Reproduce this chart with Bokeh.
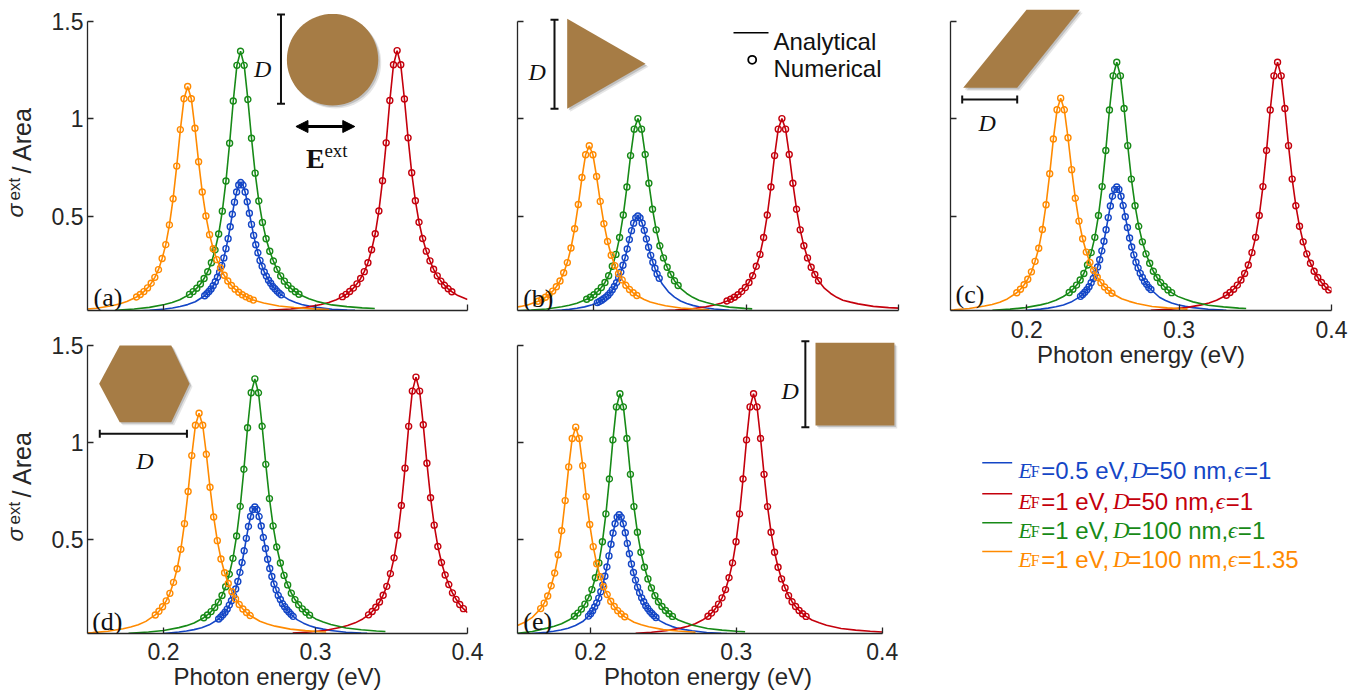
import math
from bokeh.plotting import figure
from bokeh.layouts import row, column
from bokeh.models import Range1d, FixedTicker, Label, PolyAnnotation, Arrow, TeeHead, NormalHead
from bokeh.embed import file_html
from bokeh.resources import INLINE

# ----------------------------------------------------------------- data
X_RANGE = (0.15, 0.40)
Y_RANGE = (0.015, 1.5)
X_TICKS = [0.2, 0.3, 0.4]
X_TICK_LABELS = ["0.2", "0.3", "0.4"]
Y_TICKS = [0.5, 1.0, 1.5]
Y_TICK_LABELS = ["0.5", "1", "1.5"]
X_TITLE = "Photon energy (eV)"
PANEL_TAGS = ["(a)", "(b)", "(c)", "(d)", "(e)"]
LEG_EF = ["0.5", "1", "1", "1"]
LEG_D = ["50", "50", "100", "100"]
LEG_EPS = ["1", "1", "1", "1.35"]

# each curve: X, Y (analytical line incl. tails); TAILS = points at (left, right) end that carry no marker
A_BL_X = [0.182, 0.1909, 0.2009, 0.2059, 0.2109, 0.2159, 0.2209,
          0.2271, 0.2285, 0.2299, 0.2313, 0.2327, 0.2341, 0.2355, 0.2369, 0.2383, 0.2397,
          0.2411, 0.2425, 0.2439, 0.2453, 0.2467, 0.2481, 0.2495, 0.2509, 0.2523, 0.2537,
          0.2551, 0.2565, 0.2579, 0.2593, 0.2607, 0.2621, 0.2635, 0.2649, 0.2663, 0.2677,
          0.2691, 0.2705, 0.2719, 0.2733, 0.2747, 0.2761, 0.2775,
          0.2829, 0.2869, 0.2909, 0.2959, 0.3009, 0.3109, 0.3209, 0.326]
A_BL_Y = [0.0118, 0.0155, 0.0229, 0.0281, 0.0351, 0.0452, 0.0601,
          0.0907, 0.1008, 0.1122, 0.1257, 0.1418, 0.1626, 0.1855, 0.2117, 0.2466, 0.2849,
          0.3326, 0.3837, 0.4449, 0.5094, 0.5712, 0.6229, 0.6592, 0.672, 0.6592, 0.6229,
          0.5732, 0.5141, 0.4570, 0.4005, 0.3528, 0.3111, 0.2722, 0.2419, 0.2130, 0.1915,
          0.1700, 0.1546, 0.1384, 0.1270, 0.1149, 0.1042, 0.0954,
          0.0685, 0.0555, 0.0456, 0.0376, 0.0309, 0.0218, 0.0175, 0.0158]
A_BL_TAILS = (7, 8)
A_RD_X = [0.269, 0.2837, 0.2937, 0.3037, 0.3087, 0.3137,
          0.3177, 0.3201, 0.3225, 0.3249, 0.3273, 0.3297, 0.3321, 0.3345, 0.3369, 0.3393,
          0.3417, 0.3441, 0.3465, 0.3489, 0.3513, 0.3537, 0.3561, 0.3585, 0.3609, 0.3633,
          0.3657, 0.3681, 0.3705, 0.3729, 0.3753, 0.3777, 0.3801, 0.3825, 0.3849, 0.3873,
          0.3897,
          0.3937, 0.400]
A_RD_Y = [0.0161, 0.0229, 0.0310, 0.0460, 0.0564, 0.0706,
          0.0861, 0.0979, 0.1122, 0.1298, 0.1518, 0.1794, 0.2145, 0.2604, 0.3265, 0.4087,
          0.5261, 0.6812, 0.8755, 1.0927, 1.2762, 1.349, 1.2762, 1.1008, 0.9011, 0.7217,
          0.5787, 0.4681, 0.3845, 0.3197, 0.2698, 0.2266, 0.1929, 0.1659, 0.1443, 0.1263,
          0.1114,
          0.0916, 0.0715]
A_RD_TAILS = (6, 2)
A_GR_X = [0.168, 0.1807, 0.1907, 0.2007, 0.2057, 0.2107,
          0.2171, 0.2195, 0.2219, 0.2243, 0.2267, 0.2291, 0.2315, 0.2339, 0.2363, 0.2387,
          0.2411, 0.2435, 0.2459, 0.2483, 0.2507, 0.2531, 0.2555, 0.2579, 0.2603, 0.2627,
          0.2651, 0.2675, 0.2699, 0.2723, 0.2747, 0.2771, 0.2795, 0.2819, 0.2843, 0.2867,
          0.2891,
          0.2957, 0.3007, 0.3107, 0.3207, 0.3307, 0.339]
A_GR_Y = [0.0164, 0.0229, 0.0310, 0.0459, 0.0563, 0.0704,
          0.0977, 0.1120, 0.1295, 0.1514, 0.1790, 0.2140, 0.2598, 0.3257, 0.4078, 0.5249,
          0.6797, 0.8736, 1.0903, 1.2733, 1.346, 1.2733, 1.0983, 0.8991, 0.7201, 0.5774,
          0.4671, 0.3836, 0.3190, 0.2692, 0.2261, 0.1925, 0.1656, 0.1440, 0.1260, 0.1112,
          0.0987,
          0.0754, 0.0619, 0.0437, 0.0350, 0.0283, 0.0250]
A_GR_TAILS = (6, 6)
A_OR_X = [0.150, 0.1559, 0.1659, 0.1709, 0.1759,
          0.1823, 0.1847, 0.1871, 0.1895, 0.1919, 0.1943, 0.1967, 0.1991, 0.2015, 0.2039,
          0.2063, 0.2087, 0.2111, 0.2135, 0.2159, 0.2183, 0.2207, 0.2231, 0.2255, 0.2279,
          0.2303, 0.2327, 0.2351, 0.2375, 0.2399, 0.2423, 0.2447, 0.2471, 0.2495, 0.2519,
          0.2543, 0.2567, 0.2591,
          0.2659, 0.2759, 0.2859, 0.2959, 0.3059, 0.309]
A_OR_Y = [0.0226, 0.0268, 0.0397, 0.0487, 0.0609,
          0.0846, 0.0969, 0.1121, 0.1311, 0.1549, 0.1852, 0.2248, 0.2819, 0.3530, 0.4544,
          0.5883, 0.7561, 0.9437, 1.1021, 1.165, 1.1021, 0.9506, 0.7782, 0.6233, 0.4998,
          0.4043, 0.3320, 0.2761, 0.2330, 0.1957, 0.1666, 0.1433, 0.1247, 0.1090, 0.0962,
          0.0854, 0.0763, 0.0685,
          0.0536, 0.0379, 0.0303, 0.0245, 0.0210, 0.0198]
A_OR_TAILS = (5, 6)

B_BL_X = [0.169, 0.179, 0.184, 0.189, 0.194, 0.199,
          0.2024, 0.2038, 0.2052, 0.2066, 0.2080, 0.2094, 0.2108, 0.2122, 0.2136, 0.2150,
          0.2164, 0.2178, 0.2192, 0.2206, 0.2220, 0.2234, 0.2248, 0.2262, 0.2276, 0.2290,
          0.2304, 0.2318, 0.2332, 0.2346, 0.2360, 0.2374, 0.2388, 0.2402, 0.2416, 0.2430,
          0.245, 0.249, 0.253, 0.257, 0.261, 0.265, 0.269, 0.274, 0.279, 0.289, 0.294]
B_BL_Y = [0.0115, 0.0171, 0.0209, 0.0262, 0.0337, 0.0447,
          0.0555, 0.0610, 0.0675, 0.0750, 0.0835, 0.0935, 0.1055, 0.1210, 0.1380, 0.1575,
          0.1835, 0.2120, 0.2475, 0.2855, 0.3310, 0.3790, 0.4250, 0.4635, 0.4905, 0.500,
          0.4905, 0.4635, 0.4265, 0.3825, 0.3400, 0.2980, 0.2625, 0.2315, 0.2025, 0.1800,
          0.1505, 0.1110, 0.0840, 0.0640, 0.0510, 0.0413, 0.0340, 0.0280, 0.0230, 0.0163, 0.0145]
B_BL_TAILS = (6, 11)
B_RD_X = [0.239, 0.2535, 0.2635, 0.2735, 0.2785, 0.2835,
          0.2875, 0.2899, 0.2923, 0.2947, 0.2971, 0.2995, 0.3019, 0.3043, 0.3067, 0.3091,
          0.3115, 0.3139, 0.3163, 0.3187, 0.3211, 0.3235, 0.3259, 0.3283, 0.3307, 0.3331,
          0.3355, 0.3379, 0.3403, 0.3427, 0.3451, 0.3475,
          0.3515, 0.3555, 0.3595, 0.3635, 0.3685, 0.3735, 0.3835, 0.3935, 0.400]
B_RD_Y = [0.012, 0.017, 0.023, 0.0341, 0.0418, 0.0523,
          0.0638, 0.0726, 0.0832, 0.0962, 0.1125, 0.133, 0.159, 0.193, 0.242, 0.303,
          0.390, 0.505, 0.649, 0.810, 0.946, 1.0, 0.946, 0.816, 0.668, 0.535,
          0.429, 0.347, 0.285, 0.237, 0.200, 0.168,
          0.128, 0.1025, 0.0826, 0.0679, 0.058, 0.049, 0.036, 0.030, 0.027]
B_RD_TAILS = (6, 9)
B_GR_X = [0.150, 0.159, 0.169, 0.179, 0.184, 0.189,
          0.1954, 0.1978, 0.2002, 0.2026, 0.2050, 0.2074, 0.2098, 0.2122, 0.2146, 0.2170,
          0.2194, 0.2218, 0.2242, 0.2266, 0.2290, 0.2314, 0.2338, 0.2362, 0.2386, 0.2410,
          0.2434, 0.2458, 0.2482, 0.2506, 0.2530, 0.2554,
          0.257, 0.261, 0.265, 0.269, 0.274, 0.279, 0.289, 0.299, 0.304]
B_GR_Y = [0.0133, 0.0170, 0.0230, 0.0341, 0.0418, 0.0523,
          0.0726, 0.0832, 0.0962, 0.1125, 0.133, 0.159, 0.193, 0.242, 0.303, 0.390,
          0.505, 0.649, 0.810, 0.946, 1.0, 0.946, 0.816, 0.668, 0.535, 0.429,
          0.347, 0.285, 0.237, 0.200, 0.168, 0.143,
          0.128, 0.1025, 0.0826, 0.0679, 0.056, 0.046, 0.0325, 0.026, 0.0235]
B_GR_TAILS = (6, 9)
B_OR_X = [0.150, 0.1521, 0.1571,
          0.1635, 0.1659, 0.1683, 0.1707, 0.1731, 0.1755, 0.1779, 0.1803, 0.1827, 0.1851,
          0.1875, 0.1899, 0.1923, 0.1947, 0.1971, 0.1995, 0.2019, 0.2043, 0.2067, 0.2091,
          0.2115, 0.2139, 0.2163, 0.2187, 0.2211, 0.2235, 0.2259, 0.2283,
          0.2331, 0.2371, 0.2421, 0.2471, 0.2571, 0.2671, 0.276]
B_OR_Y = [0.0331, 0.0360, 0.0450,
          0.0625, 0.0716, 0.0828, 0.0969, 0.1145, 0.1369, 0.1662, 0.2084, 0.2609, 0.3358,
          0.4348, 0.5588, 0.6974, 0.8145, 0.861, 0.8145, 0.7026, 0.5751, 0.4606, 0.3694,
          0.2988, 0.2454, 0.2041, 0.1722, 0.1446, 0.1231, 0.1059, 0.0921,
          0.0711, 0.0585, 0.0482, 0.0396, 0.0280, 0.0224, 0.0185]
B_OR_TAILS = (3, 7)

C_BL_X = [0.1906, 0.1991, 0.2091, 0.2141, 0.2191, 0.2241, 0.2291,
          0.2353, 0.2367, 0.2381, 0.2395, 0.2409, 0.2423, 0.2437, 0.2451, 0.2465, 0.2479,
          0.2493, 0.2507, 0.2521, 0.2535, 0.2549, 0.2563, 0.2577, 0.2591, 0.2605, 0.2619,
          0.2633, 0.2647, 0.2661, 0.2675, 0.2689, 0.2703, 0.2717, 0.2731, 0.2745, 0.2759,
          0.2773, 0.2787, 0.2801, 0.2815,
          0.2871, 0.2911, 0.2951, 0.2991, 0.3041, 0.3091, 0.3191, 0.3291, 0.331]
C_BL_Y = [0.0114, 0.0149, 0.0221, 0.0271, 0.0339, 0.0437, 0.0580,
          0.0876, 0.0974, 0.1084, 0.1214, 0.1369, 0.1571, 0.1791, 0.2044, 0.2382, 0.2752,
          0.3213, 0.3706, 0.4296, 0.4919, 0.5517, 0.6016, 0.6367, 0.649, 0.6367, 0.6016,
          0.5536, 0.4965, 0.4413, 0.3868, 0.3407, 0.3005, 0.2628, 0.2336, 0.2057, 0.1850,
          0.1642, 0.1493, 0.1337, 0.1227,
          0.0831, 0.0665, 0.0536, 0.0441, 0.0363, 0.0299, 0.0211, 0.0169, 0.0162]
C_BL_TAILS = (7, 9)
C_RD_X = [0.2814, 0.2946, 0.3046, 0.3146, 0.3196, 0.3246,
          0.3310, 0.3334, 0.3358, 0.3382, 0.3406, 0.3430, 0.3454, 0.3478, 0.3502, 0.3526,
          0.3550, 0.3574, 0.3598, 0.3622, 0.3646, 0.3670, 0.3694, 0.3718, 0.3742, 0.3766,
          0.3790, 0.3814, 0.3838, 0.3862, 0.3886, 0.3910, 0.3934, 0.3958, 0.3982,
          0.400]
C_RD_Y = [0.0157, 0.0219, 0.0296, 0.0440, 0.0539, 0.0674,
          0.0936, 0.1072, 0.1240, 0.1450, 0.1714, 0.2050, 0.2488, 0.3119, 0.3906, 0.5027,
          0.6509, 0.8366, 1.0441, 1.2194, 1.289, 1.2194, 1.0518, 0.8611, 0.6896, 0.5530,
          0.4473, 0.3674, 0.3055, 0.2578, 0.2166, 0.1843, 0.1585, 0.1379, 0.1207,
          0.110]
C_RD_TAILS = (6, 1)
C_GR_X = [0.1775, 0.1891, 0.1991, 0.2091, 0.2141, 0.2191, 0.2241,
          0.2279, 0.2303, 0.2327, 0.2351, 0.2375, 0.2399, 0.2423, 0.2447, 0.2471, 0.2495,
          0.2519, 0.2543, 0.2567, 0.2591, 0.2615, 0.2639, 0.2663, 0.2687, 0.2711, 0.2735,
          0.2759, 0.2783, 0.2807, 0.2831, 0.2855, 0.2879, 0.2903, 0.2927, 0.2951,
          0.2991, 0.3041, 0.3091, 0.3191, 0.3291, 0.3391, 0.344]
C_GR_Y = [0.0161, 0.0219, 0.0296, 0.0440, 0.0539, 0.0674, 0.0868,
          0.1072, 0.1240, 0.1450, 0.1714, 0.2050, 0.2488, 0.3119, 0.3906, 0.5027, 0.6509,
          0.8366, 1.0441, 1.2194, 1.289, 1.2194, 1.0518, 0.8611, 0.6896, 0.5530, 0.4473,
          0.3674, 0.3055, 0.2578, 0.2166, 0.1843, 0.1585, 0.1379, 0.1207, 0.1065,
          0.0875, 0.0722, 0.0593, 0.0419, 0.0335, 0.0271, 0.0251]
C_GR_TAILS = (7, 7)
C_OR_X = [0.150, 0.1523, 0.1623, 0.1723, 0.1773, 0.1823, 0.1873,
          0.1935, 0.1959, 0.1983, 0.2007, 0.2031, 0.2055, 0.2079, 0.2103, 0.2127, 0.2151,
          0.2175, 0.2199, 0.2223, 0.2247, 0.2271, 0.2295, 0.2319, 0.2343, 0.2367, 0.2391,
          0.2415, 0.2439, 0.2463, 0.2487, 0.2511, 0.2535, 0.2559,
          0.2623, 0.2673, 0.2723, 0.2823, 0.2923, 0.3023, 0.3055]
C_OR_Y = [0.0177, 0.0188, 0.0254, 0.0377, 0.0462, 0.0578, 0.0744,
          0.1063, 0.1243, 0.1470, 0.1757, 0.2133, 0.2674, 0.3348, 0.4310, 0.5580, 0.7171,
          0.8951, 1.0453, 1.105, 1.0453, 0.9017, 0.7381, 0.5912, 0.4740, 0.3834, 0.3149,
          0.2619, 0.2210, 0.1856, 0.1580, 0.1359, 0.1182, 0.1034,
          0.0750, 0.0619, 0.0508, 0.0359, 0.0287, 0.0232, 0.0221]
C_OR_TAILS = (7, 7)

D_BL_X = [0.190, 0.2001, 0.2101, 0.2151, 0.2201, 0.2251, 0.2301,
          0.2363, 0.2377, 0.2391, 0.2405, 0.2419, 0.2433, 0.2447, 0.2461, 0.2475, 0.2489,
          0.2503, 0.2517, 0.2531, 0.2545, 0.2559, 0.2573, 0.2587, 0.2601, 0.2615, 0.2629,
          0.2643, 0.2657, 0.2671, 0.2685, 0.2699, 0.2713, 0.2727, 0.2741, 0.2755, 0.2769,
          0.2783, 0.2797, 0.2811, 0.2825, 0.2839, 0.2853,
          0.2881, 0.2921, 0.2961, 0.3001, 0.3051, 0.3101, 0.3201, 0.3301, 0.334]
D_BL_Y = [0.0113, 0.0153, 0.0227, 0.0279, 0.0349, 0.0449, 0.0596,
          0.0900, 0.1001, 0.1114, 0.1247, 0.1407, 0.1614, 0.1841, 0.2101, 0.2448, 0.2828,
          0.3302, 0.3809, 0.4416, 0.5056, 0.5670, 0.6183, 0.6543, 0.667, 0.6543, 0.6183,
          0.5690, 0.5103, 0.4536, 0.3975, 0.3502, 0.3088, 0.2701, 0.2401, 0.2114, 0.1901,
          0.1688, 0.1534, 0.1374, 0.1261, 0.1141, 0.1034,
          0.0854, 0.0684, 0.0551, 0.0453, 0.0374, 0.0307, 0.0217, 0.0173, 0.0160]
D_BL_TAILS = (7, 9)
D_RD_X = [0.285, 0.2961, 0.3061, 0.3161, 0.3211, 0.3261, 0.3311,
          0.3349, 0.3373, 0.3397, 0.3421, 0.3445, 0.3469, 0.3493, 0.3517, 0.3541, 0.3565,
          0.3589, 0.3613, 0.3637, 0.3661, 0.3685, 0.3709, 0.3733, 0.3757, 0.3781, 0.3805,
          0.3829, 0.3853, 0.3877, 0.3901, 0.3925, 0.3949, 0.3973,
          0.400]
D_RD_Y = [0.0170, 0.0227, 0.0308, 0.0456, 0.0559, 0.0699, 0.0900,
          0.1112, 0.1286, 0.1504, 0.1778, 0.2126, 0.2580, 0.3236, 0.4051, 0.5214, 0.6752,
          0.8677, 1.0830, 1.2648, 1.337, 1.2648, 1.0910, 0.8931, 0.7153, 0.5736, 0.4639,
          0.3810, 0.3169, 0.2674, 0.2246, 0.1912, 0.1645, 0.1431,
          0.123]
D_RD_TAILS = (7, 1)
D_GR_X = [0.177, 0.1901, 0.2001, 0.2101, 0.2151, 0.2201,
          0.2265, 0.2289, 0.2313, 0.2337, 0.2361, 0.2385, 0.2409, 0.2433, 0.2457, 0.2481,
          0.2505, 0.2529, 0.2553, 0.2577, 0.2601, 0.2625, 0.2649, 0.2673, 0.2697, 0.2721,
          0.2745, 0.2769, 0.2793, 0.2817, 0.2841, 0.2865, 0.2889, 0.2913, 0.2937, 0.2961,
          0.3001, 0.3051, 0.3101, 0.3201, 0.3301, 0.3401, 0.346]
D_GR_Y = [0.0163, 0.0226, 0.0305, 0.0453, 0.0555, 0.0695,
          0.0964, 0.1105, 0.1278, 0.1494, 0.1766, 0.2112, 0.2563, 0.3214, 0.4024, 0.5179,
          0.6706, 0.8619, 1.0757, 1.2563, 1.328, 1.2563, 1.0836, 0.8871, 0.7105, 0.5697,
          0.4608, 0.3785, 0.3147, 0.2656, 0.2231, 0.1899, 0.1633, 0.1421, 0.1243, 0.1097,
          0.0902, 0.0744, 0.0611, 0.0432, 0.0345, 0.0279, 0.0252]
D_GR_TAILS = (6, 7)
D_OR_X = [0.150, 0.1534, 0.1634, 0.1734, 0.1784, 0.1834, 0.1884,
          0.1946, 0.1970, 0.1994, 0.2018, 0.2042, 0.2066, 0.2090, 0.2114, 0.2138, 0.2162,
          0.2186, 0.2210, 0.2234, 0.2258, 0.2282, 0.2306, 0.2330, 0.2354, 0.2378, 0.2402,
          0.2426, 0.2450, 0.2474, 0.2498, 0.2522, 0.2546, 0.2570,
          0.2634, 0.2684, 0.2734, 0.2834, 0.2934, 0.3034, 0.307]
D_OR_Y = [0.0181, 0.0196, 0.0265, 0.0392, 0.0481, 0.0602, 0.0775,
          0.1107, 0.1295, 0.1531, 0.1830, 0.2221, 0.2785, 0.3488, 0.4489, 0.5813, 0.7470,
          0.9323, 1.0888, 1.151, 1.0888, 0.9392, 0.7689, 0.6158, 0.4938, 0.3994, 0.3280,
          0.2728, 0.2302, 0.1934, 0.1646, 0.1416, 0.1232, 0.1077,
          0.0782, 0.0645, 0.0529, 0.0374, 0.0299, 0.0242, 0.0230]
D_OR_TAILS = (7, 7)

E_BL_X = [0.1555, 0.1597, 0.1697, 0.1747, 0.1797, 0.1847, 0.1897, 0.1947,
          0.1987, 0.2001, 0.2015, 0.2029, 0.2043, 0.2057, 0.2071, 0.2085, 0.2099, 0.2113,
          0.2127, 0.2141, 0.2155, 0.2169, 0.2183, 0.2197, 0.2211, 0.2225, 0.2239, 0.2253,
          0.2267, 0.2281, 0.2295, 0.2309, 0.2323, 0.2337, 0.2351, 0.2365, 0.2379, 0.2393,
          0.2407, 0.2421, 0.2435, 0.2449,
          0.2477, 0.2517, 0.2557, 0.2597, 0.2647, 0.2697, 0.2797, 0.2897, 0.2936]
E_BL_Y = [0.0129, 0.0144, 0.0214, 0.0262, 0.0328, 0.0422, 0.0561, 0.0765,
          0.1047, 0.1172, 0.1323, 0.1517, 0.1731, 0.1975, 0.2301, 0.2658, 0.3104, 0.3580,
          0.4151, 0.4753, 0.5330, 0.5812, 0.6151, 0.627, 0.6151, 0.5812, 0.5348, 0.4797,
          0.4264, 0.3737, 0.3292, 0.2903, 0.2539, 0.2257, 0.1988, 0.1787, 0.1586, 0.1442,
          0.1292, 0.1185, 0.1072, 0.0972,
          0.0803, 0.0643, 0.0518, 0.0426, 0.0351, 0.0288, 0.0204, 0.0163, 0.0150]
E_BL_TAILS = (8, 9)
E_RD_X = [0.231, 0.2418, 0.2518, 0.2618, 0.2668, 0.2718, 0.2768,
          0.2806, 0.2830, 0.2854, 0.2878, 0.2902, 0.2926, 0.2950, 0.2974, 0.2998, 0.3022,
          0.3046, 0.3070, 0.3094, 0.3118, 0.3142, 0.3166, 0.3190, 0.3214, 0.3238, 0.3262,
          0.3286, 0.3310, 0.3334, 0.3358, 0.3382, 0.3406, 0.3430, 0.3454, 0.3478,
          0.3518, 0.3568, 0.3618, 0.3718, 0.3818, 0.3918, 0.400]
E_RD_Y = [0.0160, 0.0213, 0.0288, 0.0427, 0.0523, 0.0654, 0.0842,
          0.1041, 0.1203, 0.1407, 0.1664, 0.1989, 0.2414, 0.3027, 0.3791, 0.4879, 0.6318,
          0.8119, 1.0133, 1.1834, 1.251, 1.1834, 1.0208, 0.8357, 0.6693, 0.5367, 0.4341,
          0.3565, 0.2965, 0.2502, 0.2102, 0.1789, 0.1539, 0.1339, 0.1171, 0.1033,
          0.0849, 0.0701, 0.0575, 0.0407, 0.0325, 0.0263, 0.0231]
E_RD_TAILS = (7, 7)
E_GR_X = [0.150, 0.1602, 0.1702, 0.1752, 0.1802, 0.1852,
          0.1890, 0.1914, 0.1938, 0.1962, 0.1986, 0.2010, 0.2034, 0.2058, 0.2082, 0.2106,
          0.2130, 0.2154, 0.2178, 0.2202, 0.2226, 0.2250, 0.2274, 0.2298, 0.2322, 0.2346,
          0.2370, 0.2394, 0.2418, 0.2442, 0.2466, 0.2490, 0.2514, 0.2538, 0.2562,
          0.2602, 0.2652, 0.2702, 0.2802, 0.2902, 0.3002, 0.306]
E_GR_Y = [0.016, 0.025, 0.0427, 0.0523, 0.0654, 0.0842,
          0.1041, 0.1203, 0.1407, 0.1664, 0.1989, 0.2414, 0.3027, 0.3791, 0.4879, 0.6318,
          0.8119, 1.0133, 1.1834, 1.251, 1.1834, 1.0208, 0.8357, 0.6693, 0.5367, 0.4341,
          0.3565, 0.2965, 0.2502, 0.2102, 0.1789, 0.1539, 0.1339, 0.1171, 0.1033,
          0.0849, 0.0701, 0.0575, 0.0407, 0.0325, 0.0263, 0.0238]
E_GR_TAILS = (6, 7)
E_OR_X = [0.150, 0.1549, 0.1599,
          0.1659, 0.1683, 0.1707, 0.1731, 0.1755, 0.1779, 0.1803, 0.1827, 0.1851, 0.1875,
          0.1899, 0.1923, 0.1947, 0.1971, 0.1995, 0.2019, 0.2043, 0.2067, 0.2091, 0.2115,
          0.2139, 0.2163, 0.2187, 0.2211, 0.2235,
          0.2299, 0.2349, 0.2399, 0.2499, 0.2599, 0.2699, 0.272]
E_OR_Y = [0.0568, 0.0726, 0.0965,
          0.1435, 0.1716, 0.2082, 0.2611, 0.3269, 0.4208, 0.5449, 0.7003, 0.8740, 1.0207,
          1.079, 1.0207, 0.8805, 0.7208, 0.5773, 0.4629, 0.3744, 0.3075, 0.2557, 0.2158,
          0.1813, 0.1543, 0.1327, 0.1155, 0.1010,
          0.0733, 0.0604, 0.0496, 0.0351, 0.0281, 0.0227, 0.0216]
E_OR_TAILS = (3, 7)

# ----------------------------------------------------------------- style
BLUE, RED, GREEN, ORANGE = "#1446c6", "#c4000c", "#178a17", "#ff8a00"
COLORS = [BLUE, RED, GREEN, ORANGE]
BROWN = "#a67c45"
INK = "#262626"
SANS = "Liberation Sans"
SERIF = "Liberation Serif"

PANELS = {
    "a": [(A_BL_X, A_BL_Y, A_BL_TAILS), (A_RD_X, A_RD_Y, A_RD_TAILS), (A_GR_X, A_GR_Y, A_GR_TAILS), (A_OR_X, A_OR_Y, A_OR_TAILS)],
    "b": [(B_BL_X, B_BL_Y, B_BL_TAILS), (B_RD_X, B_RD_Y, B_RD_TAILS), (B_GR_X, B_GR_Y, B_GR_TAILS), (B_OR_X, B_OR_Y, B_OR_TAILS)],
    "c": [(C_BL_X, C_BL_Y, C_BL_TAILS), (C_RD_X, C_RD_Y, C_RD_TAILS), (C_GR_X, C_GR_Y, C_GR_TAILS), (C_OR_X, C_OR_Y, C_OR_TAILS)],
    "d": [(D_BL_X, D_BL_Y, D_BL_TAILS), (D_RD_X, D_RD_Y, D_RD_TAILS), (D_GR_X, D_GR_Y, D_GR_TAILS), (D_OR_X, D_OR_Y, D_OR_TAILS)],
    "e": [(E_BL_X, E_BL_Y, E_BL_TAILS), (E_RD_X, E_RD_Y, E_RD_TAILS), (E_GR_X, E_GR_Y, E_GR_TAILS), (E_OR_X, E_OR_Y, E_OR_TAILS)],
}

# ----------------------------------------------------------------- geometry (page pixels)
# frames reach a little above the top tick (and right of 0.4 in (e)) so the insets are not clipped;
# the axis lines themselves are bounded to the real data limits.
TOP_H, TOP_B = 310, 23
BOT_T, BOT_H, BOT_B = 333, 300, 63
C_B = 66
Y_END_TOP = Y_RANGE[0] + TOP_H * (Y_RANGE[1] - Y_RANGE[0]) / (TOP_H - 20.7)
Y_END_BOT = Y_RANGE[0] + BOT_H * (Y_RANGE[1] - Y_RANGE[0]) / (BOT_H - 12.0)
X_END_E = X_RANGE[1] + 17 / 381 * (X_RANGE[1] - X_RANGE[0])

FRAMES = {"a": (86, 0, 381, TOP_H, X_RANGE[1], Y_END_TOP),
          "b": (517, 0, 381, TOP_H, X_RANGE[1], Y_END_TOP),
          "c": (950, 0, 381, TOP_H, X_RANGE[1], Y_END_TOP),
          "d": (86, BOT_T, 381, BOT_H, X_RANGE[1], Y_END_BOT),
          "e": (517, BOT_T, 398, BOT_H, X_END_E, Y_END_BOT)}


def to_data(fr, X, Y):
    fl, ft, fw, fh, xe, ye = fr
    return (X_RANGE[0] + (X - fl) / fw * (xe - X_RANGE[0]),
            ye - (Y - ft) / fh * (ye - Y_RANGE[0]))


def make_panel(key, width, height, bl, br, bb, show_x, show_y, x_title=None, x_so=10):
    fr = FRAMES[key]
    p = figure(width=width, height=height, x_range=Range1d(X_RANGE[0], fr[4]),
               y_range=Range1d(Y_RANGE[0], fr[5]),
               output_backend="svg", toolbar_location=None,
               min_border_left=bl, min_border_right=br, min_border_top=0, min_border_bottom=bb)
    p.outline_line_color = None
    p.xgrid.visible = False
    p.ygrid.visible = False
    for ax, ticks, labels, show, so, bounds in (
            (p.xaxis[0], X_TICKS, X_TICK_LABELS, show_x, x_so, X_RANGE),
            (p.yaxis[0], Y_TICKS, Y_TICK_LABELS, show_y, 4, Y_RANGE)):
        ax.ticker = FixedTicker(ticks=ticks)
        ax.bounds = bounds
        ax.axis_line_color = INK
        ax.axis_line_width = 1.3
        ax.major_tick_line_color = INK
        ax.major_tick_line_width = 1.3
        ax.major_tick_in = 6
        ax.major_tick_out = 0
        ax.minor_tick_line_color = None
        ax.major_label_text_color = INK
        ax.major_label_text_font = SANS
        if show:
            ax.major_label_overrides = dict(zip(ticks, labels))
            ax.major_label_text_font_size = "23px"
            ax.major_label_standoff = so
        else:
            ax.major_label_overrides = {t: "" for t in ticks}
            ax.major_label_text_font_size = "1px"
            ax.major_label_standoff = 0
    if x_title:
        p.xaxis.axis_label = x_title
        p.xaxis.axis_label_text_font = SANS
        p.xaxis.axis_label_text_font_size = "24px"
        p.xaxis.axis_label_text_font_style = "normal"
        p.xaxis.axis_label_text_color = INK
        p.xaxis.axis_label_standoff = 0
    return p


def label(p, fr, X, Y, text, size, font=SANS, style="normal", color=INK, align="left",
          baseline="alphabetic", angle=0.0):
    x, y = to_data(fr, X, Y)
    p.add_layout(Label(x=x, y=y, text=text, text_font=font, text_font_size=f"{size}px",
                       text_font_style=style, text_color=color, text_align=align,
                       text_baseline=baseline, angle=angle))


def shape(p, fr, pts):
    for off, a in ((3.0, 0.10), (1.6, 0.16)):
        xs, ys = zip(*[to_data(fr, X + off, Y + off) for X, Y in pts])
        p.add_layout(PolyAnnotation(xs=list(xs), ys=list(ys), fill_color="#000000", fill_alpha=a,
                                    line_color=None))
    xs, ys = zip(*[to_data(fr, X, Y) for X, Y in pts])
    p.add_layout(PolyAnnotation(xs=list(xs), ys=list(ys), fill_color=BROWN, fill_alpha=1.0,
                                line_color=None))


def scale_bar(p, fr, X0, Y0, X1, Y1):
    x0, y0 = to_data(fr, X0, Y0)
    x1, y1 = to_data(fr, X1, Y1)
    p.add_layout(Arrow(x_start=x0, y_start=y0, x_end=x1, y_end=y1, line_color="#111111", line_width=2,
                       start=TeeHead(size=8, line_width=2, line_color="#111111"),
                       end=TeeHead(size=8, line_width=2, line_color="#111111")))


def draw_curves(p, key):
    for (X, Y, tails), color in zip(PANELS[key], COLORS):
        n = min(len(X), len(Y))
        X, Y = X[:n], Y[:n]
        p.line(X, Y, line_color=color, line_width=1.6)
        nl, nr = tails
        p.scatter(X[nl:n - nr], Y[nl:n - nr], marker="circle", size=6, fill_color=None,
                  line_color=color, line_width=1.4)


# ----------------------------------------------------------------- panels
pa = make_panel("a", 457, TOP_H + TOP_B, 38, 38, TOP_B, False, True)
pb = make_panel("b", 435, TOP_H + TOP_B, 12, 42, TOP_B, False, False)
pc = make_panel("c", 420, TOP_H + C_B, 10, 29, C_B, True, False, X_TITLE, 10)
pd = make_panel("d", 457, BOT_H + BOT_B, 38, 38, BOT_B, True, True, X_TITLE, 9)
pe = make_panel("e", 435, BOT_H + BOT_B, 12, 25, BOT_B, True, False, X_TITLE, 9)
figs = {"a": pa, "b": pb, "c": pc, "d": pd, "e": pe}

for key, p in figs.items():
    draw_curves(p, key)

tag_pos = {"a": (92, 297), "b": (522.7, 297.5), "c": (955, 294), "d": (90.7, 620.5), "e": (523, 620.5)}
for tag, key in zip(PANEL_TAGS, "abcde"):
    label(figs[key], FRAMES[key], tag_pos[key][0], tag_pos[key][1], tag, 26, font=SERIF, color="#111111")

# (a) disc + field arrow
fa = FRAMES["a"]
shape(pa, fa, [(331.7 + 45.8 * math.cos(t * math.pi / 36), 59.2 + 45.8 * math.sin(t * math.pi / 36)) for t in range(72)])
scale_bar(pa, fa, 280, 14, 280, 103.3)
label(pa, fa, 253, 68, "D", 24, font=SERIF, style="italic", color="#111111")
xa0, ya0 = to_data(fa, 295, 126)
xa1, ya1 = to_data(fa, 354, 126)
pa.add_layout(Arrow(x_start=xa0, y_start=ya0, x_end=xa1, y_end=ya1, line_color="#000000", line_width=3,
                    start=NormalHead(size=12, fill_color="#000000", line_color="#000000"),
                    end=NormalHead(size=12, fill_color="#000000", line_color="#000000")))
label(pa, fa, 305, 158.3, "E", 28, font=SERIF, style="bold", color="#111111")
label(pa, fa, 323.5, 150, "ext", 19, font=SERIF, color="#111111")

# (b) triangle + analytical/numerical key
fb = FRAMES["b"]
shape(pb, fb, [(566.7, 18.3), (645, 63.3), (566.7, 108.3)])
scale_bar(pb, fb, 554, 19.3, 554, 108.3)
label(pb, fb, 528, 71, "D", 24, font=SERIF, style="italic", color="#111111")
kx0, ky = to_data(fb, 733, 32.3)
kx1, _ = to_data(fb, 768, 32.3)
pb.line([kx0, kx1], [ky, ky], line_color="#000000", line_width=1.6)
kcx, kcy = to_data(fb, 751.7, 59.3)
pb.scatter([kcx], [kcy], marker="circle", size=8, fill_color=None, line_color="#000000", line_width=1.8)
label(pb, fb, 773, 40.5, "Analytical", 24, color="#111111")
label(pb, fb, 773, 67.5, "Numerical", 24, color="#111111")

# (c) parallelogram
fc = FRAMES["c"]
shape(pc, fc, [(962.7, 87.3), (1026, 9.3), (1079.3, 9.3), (1016.7, 87.3)])
scale_bar(pc, fc, 961.7, 99, 1016.7, 99)
label(pc, fc, 978, 122, "D", 24, font=SERIF, style="italic", color="#111111")

# (d) hexagon
fd = FRAMES["d"]
shape(pd, fd, [(97.7, 383.3), (118.3, 345), (170, 345), (188.3, 383.3), (170, 421.7), (118.3, 421.7)])
scale_bar(pd, fd, 98.3, 433.3, 185.7, 433.3)
label(pd, fd, 135, 460, "D", 24, font=SERIF, style="italic", color="#111111")

# (e) square
fe = FRAMES["e"]
shape(pe, fe, [(828.3, 342.3), (910.7, 342.3), (910.7, 425), (828.3, 425)])
scale_bar(pe, fe, 817.7, 340.7, 817.7, 426.7)
label(pe, fe, 792.7, 390, "D", 24, font=SERIF, style="italic", color="#111111")


# ----------------------------------------------------------------- y titles (own strip, page coords)
def page_fig(width, height):
    f = figure(width=width, height=height, x_range=Range1d(0, width), y_range=Range1d(height, 0),
               x_axis_type=None, y_axis_type=None, output_backend="svg", toolbar_location=None,
               min_border_left=0, min_border_right=0, min_border_top=0, min_border_bottom=0)
    f.outline_line_color = None
    return f


STRIP_W = 48
py = page_fig(STRIP_W, BOT_T + BOT_H + BOT_B)
for dy in (0, 324):
    py.add_layout(Label(x=27.5, y=217 + dy, text="σ", text_font=SANS, text_font_size="23px",
                        text_font_style="italic", text_color=INK, angle=math.pi / 2))
    py.add_layout(Label(x=23.5, y=200 + dy, text="ext", text_font=SANS, text_font_size="17px",
                        text_color=INK, angle=math.pi / 2))
    py.add_layout(Label(x=35.5, y=173 + dy, text="/ Area", text_font=SANS, text_font_size="25px",
                        text_color=INK, angle=math.pi / 2))

# ----------------------------------------------------------------- colour legend (page coords offset)
LEG_LEFT, LEG_TOP = 940, TOP_H + C_B
pl = page_fig(420, BOT_T + BOT_H + BOT_B - LEG_TOP)

W_SANS = {"=": 0.584, ".": 0.278, " ": 0.278, ",": 0.278, "e": 0.556, "V": 0.667, "n": 0.556, "m": 0.833}


def sans_width(text, size):
    return sum(W_SANS.get(ch, 0.556) for ch in text) * size


row_centres = [462.3, 493.3, 522.3, 551.0]
for i, color in enumerate(COLORS):
    yc = row_centres[i] - LEG_TOP
    yb = yc + 8
    pl.line([975 - LEG_LEFT, 1008 - LEG_LEFT], [yc, yc], line_color=color, line_width=1.6)
    x0 = 1015 - LEG_LEFT
    eq1 = f"={LEG_EF[i]} eV,"
    eq2 = f"={LEG_D[i]} nm,"
    eq3 = f"={LEG_EPS[i]}"
    x_eq1 = x0 + 25
    x_d = x_eq1 + sans_width(eq1, 24) + 9
    x_eq2 = x_d + 16
    x_eps = x_eq2 + sans_width(eq2, 24) + 10
    x_eq3 = x_eps + 11
    pieces = [("E", x0, SERIF, "italic", 22, 0), ("F", x0 + 13.5, SERIF, "normal", 16, 1),
              (eq1, x_eq1, SANS, "normal", 24, 0), ("D", x_d, SERIF, "italic", 23, 0),
              (eq2, x_eq2, SANS, "normal", 24, 0), ("ϵ", x_eps, SERIF, "italic", 23, 0),
              (eq3, x_eq3, SANS, "normal", 24, 0)]
    for text, x, font, style, size, dy in pieces:
        pl.add_layout(Label(x=x, y=yb + dy, text=text, text_font=font, text_font_size=f"{size}px",
                            text_font_style=style, text_color=color, text_align="left",
                            text_baseline="alphabetic"))

root = row(py, column(pa, pd), column(pb, pe), column(pc, pl))
open("out.html", "w").write(file_html(root, INLINE, title="sigma ext"))
